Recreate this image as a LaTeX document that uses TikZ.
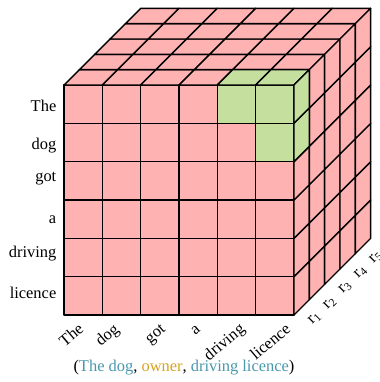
\documentclass[tikz,border=0pt]{standalone}
\usepackage{fontspec}
\setmainfont{Liberation Serif}
\usetikzlibrary{positioning}

\definecolor{cellpink}{RGB}{255,178,178}
\definecolor{cellgreen}{RGB}{197,224,158}
\definecolor{argblue}{RGB}{72,152,172}
\definecolor{relgold}{RGB}{214,162,32}

\begin{document}
\begin{tikzpicture}[
    x=38.33bp,
    y=38.33bp,
    cell/.style={
        draw=black,
        line width=1.4bp,
        line join=round,
        fill=cellpink
    },
    hit/.style={
        cell,
        fill=cellgreen
    },
    word/.style={
        font=\fontsize{16.5}{19}\selectfont,
        inner sep=1bp
    }
]
\useasboundingbox (-1.670,-1.748) rectangle (8.244,8.218);

% Front face
\foreach \c in {0,...,5}
    \foreach \r in {0,...,5}
        \draw[cell] (\c,\r) rectangle ++(1,1);
\draw[hit] (4,5) rectangle ++(1,1);
\draw[hit] (5,5) rectangle ++(1,1);
\draw[hit] (5,4) rectangle ++(1,1);

% Top face
\foreach \c in {0,...,5}
    \foreach \k in {0,...,4}
        \draw[cell] ({\c+0.4*\k},{6+0.4*\k}) -- ++(1,0) -- ++(0.4,0.4) -- ++(-1,0) -- cycle;
\draw[hit] (4,6) -- ++(1,0) -- ++(0.4,0.4) -- ++(-1,0) -- cycle;
\draw[hit] (5,6) -- ++(1,0) -- ++(0.4,0.4) -- ++(-1,0) -- cycle;

% Right face
\foreach \r in {0,...,5}
    \foreach \k in {0,...,4}
        \draw[cell] ({6+0.4*\k},{\r+0.4*\k}) -- ++(0.4,0.4) -- ++(0,1) -- ++(-0.4,-0.4) -- cycle;
\draw[hit] (6,5) -- ++(0.4,0.4) -- ++(0,1) -- ++(-0.4,-0.4) -- cycle;
\draw[hit] (6,4) -- ++(0.4,0.4) -- ++(0,1) -- ++(-0.4,-0.4) -- cycle;

% Row words
\foreach \w/\off [count=\i] in {The/-0.2,dog/-0.19,got/-0.03,a/-0.1,driving/0.01,licence/-0.06}
    \node[word, anchor=base east] (row\i) at (-0.17,{6.5-\i+\off}) {\w};

% Column words
\foreach \w/\off [count=\i] in {The/0.06,dog/-0.02,got/0.19,a/0.1,driving/0.26,licence/0.46}
    \node[word, rotate=40, anchor=base east] (col\i) at ({\i-0.5+\off},-0.39) {\w};

% Relation layers
\foreach \k in {1,...,5}
    \node[word, rotate=45] (rel\k) at ({6.34+0.4*(\k-0.5)},{0.4*(\k-0.5)-0.29}) {r\textsubscript{\k}};

% Triple
\node[word] (triple) at (3.13,-1.38) {(\textcolor{argblue}{The dog}, \textcolor{relgold}{owner}, \textcolor{argblue}{driving licence})};

\end{tikzpicture}
\end{document}
